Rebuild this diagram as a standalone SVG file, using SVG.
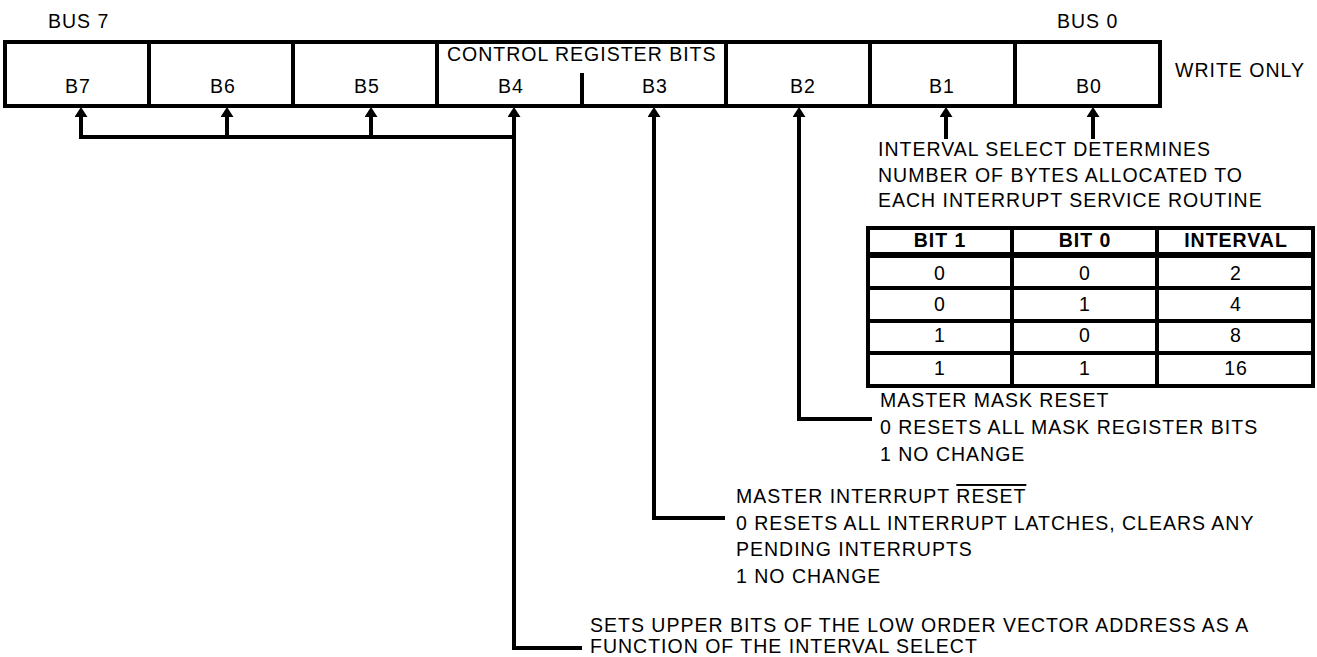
<svg xmlns="http://www.w3.org/2000/svg" width="1317" height="657" viewBox="0 0 1317 657">
<style>
text{font-family:"Liberation Sans",Arial,Helvetica,sans-serif;font-size:19.5px;letter-spacing:1px;fill:#000}
.c{text-anchor:middle}
.b{font-weight:bold}
.box{fill:#fff;stroke:#000;stroke-width:4}
.ln{fill:none;stroke:#000;stroke-width:4}
.conn{fill:none;stroke:#000;stroke-width:4;stroke-linejoin:miter}
</style>
<defs>
<marker id="ah" markerUnits="userSpaceOnUse" viewBox="0 0 10 13" markerWidth="10" markerHeight="13" refX="0" refY="6.5" orient="auto">
<path d="M0,0 L10,6.5 L0,13 Z" fill="#000"/>
</marker>
</defs>
<rect width="1317" height="657" fill="#fff"/>
<g id="labels-top">
<text x="48" y="28">BUS 7</text>
<text x="1057" y="28">BUS 0</text>
<text x="1175" y="77">WRITE ONLY</text>
</g>
<g id="register">
<rect class="box" x="5" y="42" width="1155" height="64"/>
<line class="ln" x1="149" y1="42" x2="149" y2="106"/>
<line class="ln" x1="293" y1="42" x2="293" y2="106"/>
<line class="ln" x1="437" y1="42" x2="437" y2="106"/>
<line class="ln" x1="582" y1="73" x2="582" y2="106"/>
<line class="ln" x1="726" y1="42" x2="726" y2="106"/>
<line class="ln" x1="870" y1="42" x2="870" y2="106"/>
<line class="ln" x1="1015" y1="42" x2="1015" y2="106"/>
<text x="447" y="61">CONTROL REGISTER BITS</text>
<text class="c" x="78" y="93">B7</text>
<text class="c" x="223" y="93">B6</text>
<text class="c" x="367" y="93">B5</text>
<text class="c" x="511" y="93">B4</text>
<text class="c" x="655" y="93">B3</text>
<text class="c" x="803" y="93">B2</text>
<text class="c" x="942" y="93">B1</text>
<text class="c" x="1089" y="93">B0</text>
</g>
<g id="connectors">
<path class="conn" d="M81,137 L514,137"/>
<path class="conn" d="M81,139 L81,117" marker-end="url(#ah)"/>
<path class="conn" d="M227,139 L227,117" marker-end="url(#ah)"/>
<path class="conn" d="M371,139 L371,117" marker-end="url(#ah)"/>
<path class="conn" d="M582,648 L514,648 L514,117" marker-end="url(#ah)"/>
<path class="conn" d="M725,518 L654,518 L654,117" marker-end="url(#ah)"/>
<path class="conn" d="M872,419 L799,419 L799,117" marker-end="url(#ah)"/>
<path class="conn" d="M946,139 L946,117" marker-end="url(#ah)"/>
<path class="conn" d="M1093,139 L1093,117" marker-end="url(#ah)"/>
</g>
<g id="interval-note">
<text x="878" y="156">INTERVAL SELECT DETERMINES</text>
<text x="878" y="182">NUMBER OF BYTES ALLOCATED TO</text>
<text x="878" y="207">EACH INTERRUPT SERVICE ROUTINE</text>
</g>
<g id="interval-table">
<rect class="box" x="868" y="228" width="445" height="158"/>
<line class="ln" x1="868" y1="255" x2="1313" y2="255" style="stroke-width:6"/>
<line class="ln" x1="868" y1="288" x2="1313" y2="288"/>
<line class="ln" x1="868" y1="321" x2="1313" y2="321"/>
<line class="ln" x1="868" y1="353" x2="1313" y2="353"/>
<line class="ln" x1="1012" y1="228" x2="1012" y2="386"/>
<line class="ln" x1="1157" y1="228" x2="1157" y2="386"/>
<text class="c b" x="940" y="247">BIT 1</text>
<text class="c b" x="1085" y="247">BIT 0</text>
<text class="c b" x="1236" y="247">INTERVAL</text>
<text class="c" x="940" y="280">0</text><text class="c" x="1085" y="280">0</text><text class="c" x="1236" y="280">2</text>
<text class="c" x="940" y="311">0</text><text class="c" x="1085" y="311">1</text><text class="c" x="1236" y="311">4</text>
<text class="c" x="940" y="342">1</text><text class="c" x="1085" y="342">0</text><text class="c" x="1236" y="342">8</text>
<text class="c" x="940" y="375">1</text><text class="c" x="1085" y="375">1</text><text class="c" x="1236" y="375">16</text>
</g>
<g id="mask-note">
<text x="880" y="407">MASTER MASK RESET</text>
<text x="880" y="434">0 RESETS ALL MASK REGISTER BITS</text>
<text x="880" y="461">1 NO CHANGE</text>
</g>
<g id="interrupt-note">
<text x="736" y="503">MASTER INTERRUPT <tspan text-decoration="overline">RESET</tspan></text>
<text x="736" y="530">0 RESETS ALL INTERRUPT LATCHES, CLEARS ANY</text>
<text x="736" y="556">PENDING INTERRUPTS</text>
<text x="736" y="583">1 NO CHANGE</text>
</g>
<g id="vector-note">
<text x="590" y="632">SETS UPPER BITS OF THE LOW ORDER VECTOR ADDRESS AS A</text>
<text x="590" y="653">FUNCTION OF THE INTERVAL SELECT</text>
</g>
</svg>
